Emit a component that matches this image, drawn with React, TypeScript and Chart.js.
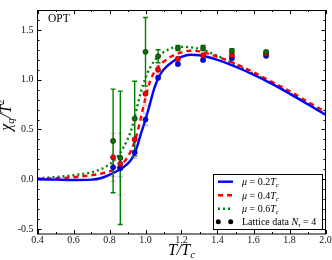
import React, { useEffect, useRef } from "react";
import { Chart, registerables } from "chart.js";

Chart.register(...registerables);

// ---- data ----
const curveT = [0.4, 0.5, 0.6, 0.7, 0.75, 0.8, 0.85, 0.9, 0.925, 0.95, 0.975, 1.0, 1.025, 1.05, 1.075, 1.1, 1.15, 1.2, 1.25, 1.3, 1.4, 1.5, 1.6, 1.7, 1.8, 1.9, 2.0];
const curveMu02 = [0.0, -0.004, -0.008, -0.004, 0.01, 0.045, 0.09, 0.155, 0.21, 0.31, 0.46, 0.6, 0.76, 0.92, 1.03, 1.1, 1.18, 1.23, 1.25, 1.245, 1.2, 1.13, 1.05, 0.96, 0.86, 0.755, 0.648];
const curveMu04 = [0.005, 0.01, 0.02, 0.04, 0.055, 0.078, 0.12, 0.22, 0.31, 0.44, 0.62, 0.82, 0.98, 1.08, 1.14, 1.18, 1.24, 1.275, 1.29, 1.285, 1.23, 1.16, 1.075, 0.98, 0.885, 0.78, 0.675];
const curveMu06 = [0.01, 0.022, 0.04, 0.07, 0.1, 0.15, 0.24, 0.4, 0.52, 0.7, 0.88, 1.02, 1.12, 1.19, 1.24, 1.275, 1.32, 1.33, 1.325, 1.31, 1.24, 1.15, 1.06, 0.965, 0.865, 0.76, 0.655];

const latticeT = [0.82, 0.86, 0.94, 1.0, 1.07, 1.18, 1.32, 1.48, 1.67];
const latticeMu02 = [0.12, 0.11, 0.27, 0.6, 1.02, 1.157, 1.198, 1.216, 1.24];
const latticeMu02Err = [0.09, 0.085, 0.06, 0.06, 0.02, 0.015, 0.015, 0.01, 0.01];
const latticeMu04 = [0.22, 0.155, 0.4, 0.86, 1.1, 1.21, 1.245, 1.247, 1.26];
const latticeMu04Err = [0.24, 0.31, 0.17, 0.12, 0.04, 0.02, 0.02, 0.015, 0.01];
const latticeMu06 = [0.385, 0.215, 0.61, 1.28, 1.235, 1.318, 1.318, 1.29, 1.278];
const latticeMu06Err = [0.52, 0.67, 0.375, 0.345, 0.065, 0.025, 0.025, 0.02, 0.015];

const xTicks = [0.4, 0.6, 0.8, 1.0, 1.2, 1.4, 1.6, 1.8, 2.0];
const yTicks = [-0.5, 0.0, 0.5, 1.0, 1.5];
const legendMu = ["0.2", "0.4", "0.6"];

const BLUE = "#0000ff";
const RED = "#ff0000";
const GREEN = "#008000";
const SERIF = "'Liberation Serif', 'DejaVu Serif', serif";

type Run = { t: string; f: string; dy?: number };

function runsWidth(ctx: CanvasRenderingContext2D, runs: Run[]) {
  let w = 0;
  for (const r of runs) {
    ctx.font = r.f;
    w += ctx.measureText(r.t).width;
  }
  return w;
}

function drawRuns(ctx: CanvasRenderingContext2D, runs: Run[], x: number, y: number) {
  let cx = x;
  for (const r of runs) {
    ctx.font = r.f;
    ctx.fillText(r.t, cx, y + (r.dy || 0));
    cx += ctx.measureText(r.t).width;
  }
}

function pts(xs: number[], ys: number[]) {
  return xs.map((x, i) => ({ x, y: ys[i] }));
}

const errorBarPlugin = {
  id: "errorBars",
  beforeDatasetDraw(chart: any, args: any) {
    const ds = chart.data.datasets[args.index];
    if (!ds.errAnchor) return;
    const { ctx, scales } = chart;
    const x = scales.x;
    const y = scales.y;
    const groups: [number[], number[], string][] = [
      [latticeMu02, latticeMu02Err, "rgba(80,80,255,0.4)"],
      [latticeMu04, latticeMu04Err, "rgba(255,80,80,0.4)"],
      [latticeMu06, latticeMu06Err, GREEN],
    ];
    ctx.save();
    for (const [vals, errs, col] of groups) {
      ctx.strokeStyle = col;
      ctx.lineWidth = 1.4;
      for (let i = 0; i < latticeT.length; i++) {
        const px = x.getPixelForValue(latticeT[i]);
        const top = y.getPixelForValue(vals[i] + errs[i]);
        const bot = y.getPixelForValue(vals[i] - errs[i]);
        ctx.beginPath();
        ctx.moveTo(px, top);
        ctx.lineTo(px, bot);
        ctx.moveTo(px - 2.5, top);
        ctx.lineTo(px + 2.5, top);
        ctx.moveTo(px - 2.5, bot);
        ctx.lineTo(px + 2.5, bot);
        ctx.stroke();
      }
    }
    ctx.restore();
  },
};

const framePlugin = {
  id: "frameAndText",
  afterDraw(chart: any) {
    const { ctx, chartArea: a, scales } = chart;
    const x = scales.x;
    const y = scales.y;
    ctx.save();
    ctx.strokeStyle = "#000";
    ctx.lineWidth = 1;
    ctx.strokeRect(a.left, a.top + 0.5, a.right - a.left, a.bottom - a.top - 0.5);
    ctx.beginPath();
    for (let i = 4; i <= 20; i++) {
      const px = Math.round(x.getPixelForValue(i / 10)) + 0.5;
      const L = i % 2 === 0 ? 4 : 2;
      ctx.moveTo(px, a.bottom);
      ctx.lineTo(px, a.bottom - L);
      ctx.moveTo(px, a.top);
      ctx.lineTo(px, a.top + L);
    }
    for (let i = -5; i <= 16; i++) {
      const py = Math.round(y.getPixelForValue(i / 10)) + 0.5;
      const L = i % 5 === 0 ? 4 : 2;
      ctx.moveTo(a.left, py);
      ctx.lineTo(a.left + L, py);
      ctx.moveTo(a.right, py);
      ctx.lineTo(a.right - L, py);
    }
    ctx.stroke();

    ctx.fillStyle = "#000";
    ctx.textBaseline = "alphabetic";
    // OPT label
    ctx.font = `11.5px ${SERIF}`;
    ctx.fillText("OPT", 48, 21.5);

    // x title
    const xt: Run[] = [
      { t: "T", f: `italic 16px ${SERIF}` },
      { t: "/", f: `italic 16px ${SERIF}` },
      { t: "T", f: `italic 16px ${SERIF}` },
      { t: "c", f: `italic 11px ${SERIF}`, dy: 3 },
    ];
    const xw = runsWidth(ctx, xt);
    drawRuns(ctx, xt, (a.left + a.right) / 2 - xw / 2, 255);

    // y title
    const yt: Run[] = [
      { t: "χ", f: `italic 16px ${SERIF}` },
      { t: "q", f: `italic 11px ${SERIF}`, dy: 3 },
      { t: "/", f: `italic 16px ${SERIF}` },
      { t: "T", f: `italic 16px ${SERIF}` },
      { t: "2", f: `11px ${SERIF}`, dy: -7 },
    ];
    const yw = runsWidth(ctx, yt);
    ctx.save();
    ctx.translate(11, 115);
    ctx.rotate(-Math.PI / 2);
    drawRuns(ctx, yt, -yw / 2, 0);
    ctx.restore();

    // legend
    const bx = 213.5, by = 174.5, bw = 109, bh = 55;
    ctx.fillStyle = "#fff";
    ctx.fillRect(bx, by, bw, bh);
    ctx.strokeStyle = "#000";
    ctx.lineWidth = 1;
    ctx.strokeRect(bx, by, bw, bh);
    const rows = [181.7, 195.3, 208.7, 221.7];
    const styles: [string, number[]][] = [
      [BLUE, []],
      [RED, [5, 4]],
      [GREEN, [2, 3]],
    ];
    for (let k = 0; k < 3; k++) {
      ctx.strokeStyle = styles[k][0];
      ctx.lineWidth = 2.4;
      ctx.setLineDash(styles[k][1]);
      ctx.beginPath();
      ctx.moveTo(218, rows[k]);
      ctx.lineTo(233, rows[k]);
      ctx.stroke();
      ctx.setLineDash([]);
      ctx.fillStyle = "#000";
      drawRuns(
        ctx,
        [
          { t: "μ", f: `italic 10px ${SERIF}` },
          { t: " = " + legendMu[k], f: `10px ${SERIF}` },
          { t: "T", f: `italic 10px ${SERIF}` },
          { t: "c", f: `italic 7px ${SERIF}`, dy: 2 },
        ],
        242,
        rows[k] + 3.5
      );
    }
    ctx.fillStyle = "#000";
    for (const dx of [218.3, 230.7]) {
      ctx.beginPath();
      ctx.arc(dx, rows[3], 2.5, 0, Math.PI * 2);
      ctx.fill();
    }
    drawRuns(
      ctx,
      [
        { t: "Lattice data ", f: `10px ${SERIF}` },
        { t: "N", f: `italic 10px ${SERIF}` },
        { t: "τ", f: `italic 7px ${SERIF}`, dy: 2 },
        { t: " = 4", f: `10px ${SERIF}` },
      ],
      242,
      rows[3] + 3.5
    );
    ctx.restore();
  },
};

export default function App() {
  const canvasRef = useRef<HTMLCanvasElement | null>(null);

  useEffect(() => {
    if (!canvasRef.current) return;
    const curve = (data: number[], color: string, dash: number[], order: number) => ({
      data: pts(curveT, data),
      showLine: true,
      borderColor: color,
      backgroundColor: color,
      borderWidth: 2.4,
      borderDash: dash,
      pointRadius: 0,
      cubicInterpolationMode: "monotone",
      order,
    });
    const lattice = (data: number[], color: string, edge: string, order: number, anchor = false) => ({
      data: pts(latticeT, data),
      showLine: false,
      pointRadius: 2.6,
      pointBackgroundColor: color,
      pointBorderColor: edge,
      pointBorderWidth: 0.6,
      order,
      errAnchor: anchor,
    });
    const chart = new Chart(canvasRef.current, {
      type: "scatter",
      data: {
        datasets: [
          curve(curveMu06, GREEN, [2, 3], 5) as any,
          curve(curveMu04, RED, [5, 4], 4) as any,
          curve(curveMu02, BLUE, [], 3) as any,
          lattice(latticeMu02, BLUE, "#000060", 2, true) as any,
          lattice(latticeMu04, RED, "#600000", 1) as any,
          lattice(latticeMu06, "#0a6e0a", "#003000", 0) as any,
        ],
      },
      options: {
        responsive: false,
        animation: false,
        events: [],
        layout: { padding: { left: 0, right: 6.5, top: 0, bottom: 0 } },
        plugins: { legend: { display: false }, tooltip: { enabled: false } },
        scales: {
          x: {
            type: "linear",
            min: 0.4,
            max: 2.0,
            grid: { display: false, drawTicks: false },
            border: { display: false },
            afterBuildTicks: (s: any) => {
              s.ticks = xTicks.map((v) => ({ value: v }));
            },
            afterFit: (s: any) => {
              s.height = 26;
            },
            ticks: {
              autoSkip: false,
              maxRotation: 0,
              padding: 0,
              color: "#111",
              font: { family: SERIF, size: 10 },
              callback: (v: any) => Number(v).toFixed(1),
            },
          },
          y: {
            type: "linear",
            min: -0.55,
            max: 1.7,
            grid: { display: false, drawTicks: false },
            border: { display: false },
            afterBuildTicks: (s: any) => {
              s.ticks = yTicks.map((v) => ({ value: v }));
            },
            afterFit: (s: any) => {
              s.width = 37.5;
            },
            ticks: {
              autoSkip: false,
              padding: 4,
              color: "#111",
              font: { family: SERIF, size: 10 },
              callback: (v: any) => Number(v).toFixed(1),
            },
          },
        },
      } as any,
      plugins: [errorBarPlugin, framePlugin],
    });
    return () => chart.destroy();
  }, []);

  return (
    <div style={{ position: "absolute", left: 0, top: 0, width: 332, height: 260, background: "#fff" }}>
      <canvas ref={canvasRef} width={332} height={260} style={{ display: "block", width: 332, height: 260 }} />
    </div>
  );
}
